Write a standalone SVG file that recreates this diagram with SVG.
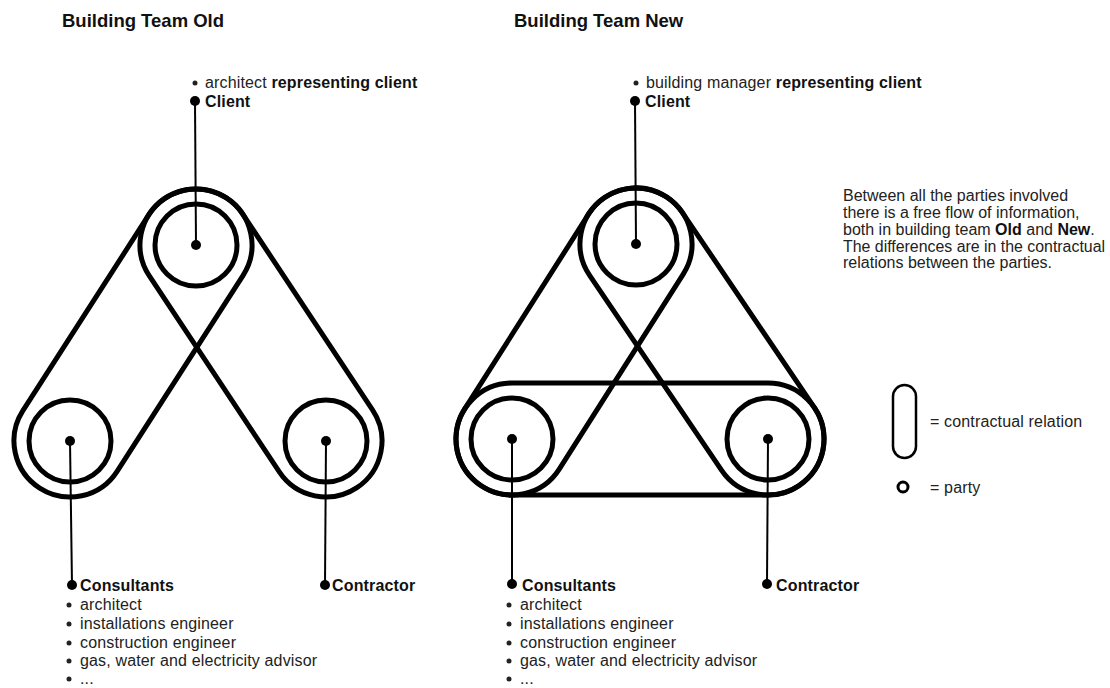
<svg xmlns="http://www.w3.org/2000/svg" width="1110" height="688" viewBox="0 0 1110 688">
<style>
text{font-family:"Liberation Sans",Arial,sans-serif;font-size:16px;fill:#222;letter-spacing:0.15px}
.b{font-weight:bold;fill:#111}
.h{font-weight:bold;font-size:18.5px;fill:#111;letter-spacing:0}
.d{letter-spacing:0}
.loop{fill:none;stroke:#000;stroke-width:5}
.party{fill:none;stroke:#000;stroke-width:5}
.lead{stroke:#000;stroke-width:2;fill:none}
.dot{fill:#000}
.bul{fill:#222}
</style>
<rect width="1110" height="688" fill="#fff"/>
<text class="h" x="62" y="27">Building Team Old</text>
<text class="h" x="514" y="27">Building Team New</text>

<g id="connectors">
  <!-- Old -->
  <rect class="loop" x="-172.5" y="-56" width="345" height="112" rx="56" transform="translate(133,343) rotate(122.74)"/>
  <rect class="loop" x="-173.6" y="-56" width="347.2" height="112" rx="56" transform="translate(261,343) rotate(56.45)"/>
  <!-- New -->
  <rect class="loop" x="-171.55" y="-56" width="343.1" height="112" rx="56" transform="translate(574,341.5) rotate(122.45)"/>
  <rect class="loop" x="-173.75" y="-56" width="347.5" height="112" rx="56" transform="translate(702,341.5) rotate(55.9)"/>
  <rect class="loop" x="456" y="383" width="368" height="112" rx="56"/>
</g>

<g id="old-client">
  <circle class="party" cx="196" cy="245" r="41"/>
  <line class="lead" x1="195" y1="101" x2="196" y2="245"/>
  <circle class="dot" cx="196" cy="245" r="5"/>
  <circle class="dot" cx="195" cy="101" r="5"/>
  <circle class="bul" cx="195" cy="83" r="2.5"/>
  <text x="205" y="88">architect <tspan class="b">representing client</tspan></text>
  <text class="b" x="205" y="107">Client</text>
</g>
<g id="old-consultants">
  <circle class="party" cx="70" cy="441" r="41"/>
  <line class="lead" x1="70" y1="441" x2="72" y2="585"/>
  <circle class="dot" cx="70" cy="441" r="5"/>
  <circle class="dot" cx="72" cy="585" r="5"/>
  <text class="b" x="80" y="591">Consultants</text>
  <circle class="bul" cx="69" cy="605" r="2.5"/>
  <text x="80" y="610">architect</text>
  <circle class="bul" cx="69" cy="624" r="2.5"/>
  <text x="80" y="629">installations engineer</text>
  <circle class="bul" cx="69" cy="643" r="2.5"/>
  <text x="80" y="648">construction engineer</text>
  <circle class="bul" cx="69" cy="661" r="2.5"/>
  <text x="80" y="666">gas, water and electricity advisor</text>
  <circle class="bul" cx="69" cy="679" r="2.5"/>
  <text x="80" y="684">...</text>
</g>
<g id="old-contractor">
  <circle class="party" cx="326" cy="441" r="41"/>
  <line class="lead" x1="326" y1="441" x2="325" y2="585"/>
  <circle class="dot" cx="326" cy="441" r="5"/>
  <circle class="dot" cx="325" cy="585" r="5"/>
  <text class="b" x="332" y="591">Contractor</text>
</g>

<g id="new-client">
  <circle class="party" cx="636" cy="244" r="41"/>
  <line class="lead" x1="635" y1="101" x2="636" y2="244"/>
  <circle class="dot" cx="636" cy="244" r="5"/>
  <circle class="dot" cx="635" cy="101" r="5"/>
  <circle class="bul" cx="636" cy="83" r="2.5"/>
  <text x="646" y="88">building manager <tspan class="b">representing client</tspan></text>
  <text class="b" x="645" y="107">Client</text>
</g>
<g id="new-consultants">
  <circle class="party" cx="512" cy="439" r="41"/>
  <line class="lead" x1="512" y1="439" x2="512" y2="584"/>
  <circle class="dot" cx="512" cy="439" r="5"/>
  <circle class="dot" cx="512" cy="584" r="5"/>
  <text class="b" x="522" y="591">Consultants</text>
  <circle class="bul" cx="509" cy="605" r="2.5"/>
  <text x="520" y="610">architect</text>
  <circle class="bul" cx="509" cy="624" r="2.5"/>
  <text x="520" y="629">installations engineer</text>
  <circle class="bul" cx="509" cy="643" r="2.5"/>
  <text x="520" y="648">construction engineer</text>
  <circle class="bul" cx="509" cy="661" r="2.5"/>
  <text x="520" y="666">gas, water and electricity advisor</text>
  <circle class="bul" cx="509" cy="679" r="2.5"/>
  <text x="520" y="684">...</text>
</g>
<g id="new-contractor">
  <circle class="party" cx="768" cy="439" r="41"/>
  <line class="lead" x1="768" y1="439" x2="767" y2="584"/>
  <circle class="dot" cx="768" cy="439" r="5"/>
  <circle class="dot" cx="767" cy="584" r="5"/>
  <text class="b" x="776" y="591">Contractor</text>
</g>

<g id="description">
  <text class="d" x="843" y="201">Between all the parties involved</text>
  <text class="d" x="843" y="218">there is a free flow of information,</text>
  <text class="d" x="843" y="235">both in building team <tspan class="b">Old</tspan> and <tspan class="b">New</tspan>.</text>
  <text class="d" x="843" y="252" textLength="262" lengthAdjust="spacingAndGlyphs">The differences are in the contractual</text>
  <text class="d" x="843" y="268">relations between the parties.</text>
</g>

<g id="legend">
  <rect x="893" y="385" width="23" height="73" rx="11.5" fill="none" stroke="#000" stroke-width="2.5"/>
  <text x="930" y="427">= contractual relation</text>
  <circle cx="903" cy="487" r="5" fill="none" stroke="#000" stroke-width="3"/>
  <text x="930" y="493">= party</text>
</g>
</svg>
